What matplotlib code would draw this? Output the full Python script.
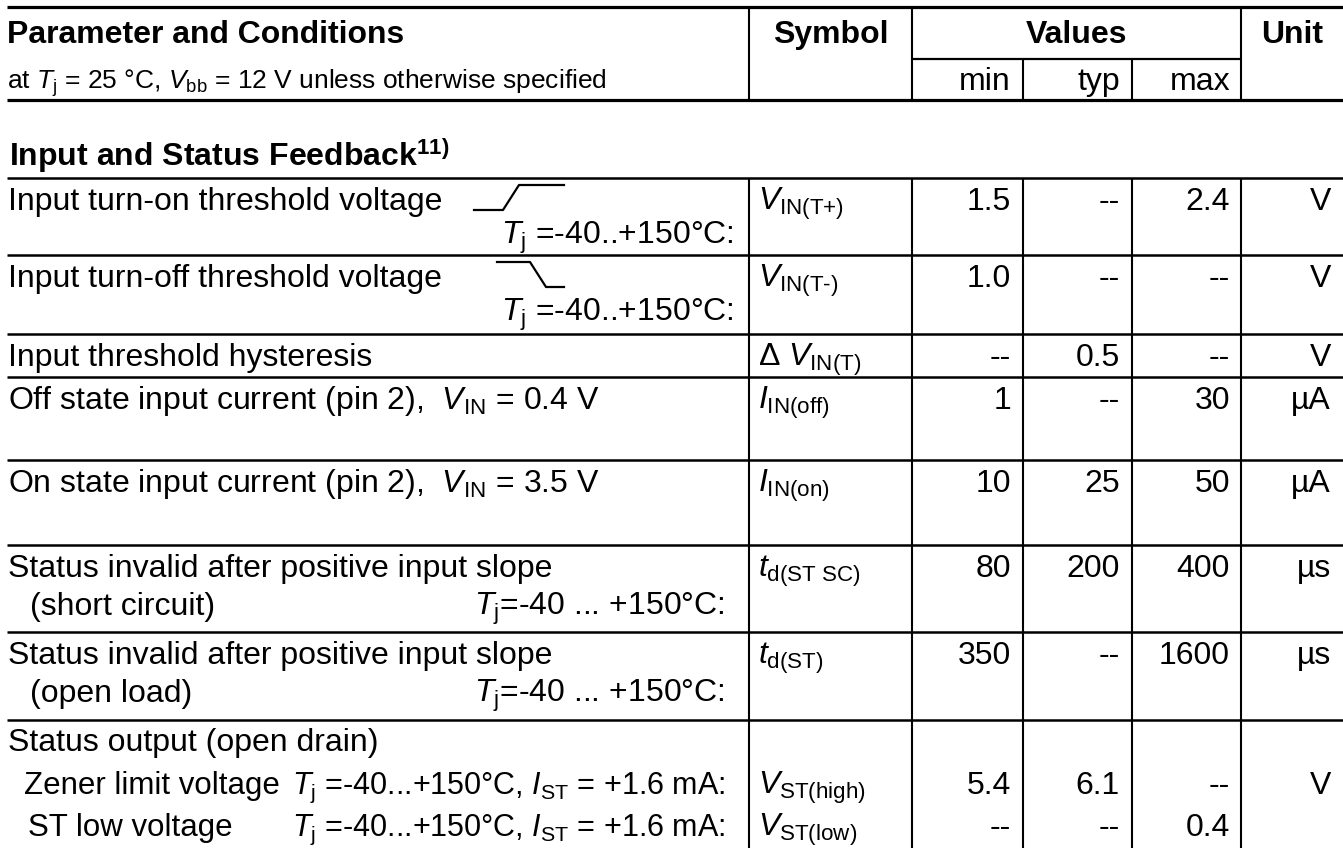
import matplotlib.pyplot as plt

plt.rcParams['font.family'] = ['Liberation Sans', 'DejaVu Sans']
plt.rcParams['mathtext.fontset'] = 'custom'
plt.rcParams['mathtext.rm'] = 'Liberation Sans'
plt.rcParams['mathtext.it'] = 'Liberation Sans:italic'
plt.rcParams['mathtext.bf'] = 'Liberation Sans:bold'

# table content
params = [
    'Input turn-on threshold voltage',
    'Input turn-off threshold voltage',
    'Input threshold hysteresis',
    r'Off state input current (pin 2),  $V_{\text{IN}}$ = 0.4 V',
    r'On state input current (pin 2),  $V_{\text{IN}}$ = 3.5 V',
    'Status invalid after positive input slope',
    'Status invalid after positive input slope',
]
sub_left = ['', '', '', '', '', '(short circuit)', '(open load)']
sub_right = [
    r'$T_{\text{j}}$ =-40..+150°C:',
    r'$T_{\text{j}}$ =-40..+150°C:',
    '', '', '',
    r'$T_{\text{j}}$=-40 ... +150°C:',
    r'$T_{\text{j}}$=-40 ... +150°C:',
]
symbols = [r'$V_{\text{IN(T+)}}$', r'$V_{\text{IN(T-)}}$', r'Δ $V_{\text{IN(T)}}$',
           r'$I_{\text{IN(off)}}$', r'$I_{\text{IN(on)}}$',
           r'$t_{\text{d(ST SC)}}$', r'$t_{\text{d(ST)}}$']
mins = ['1.5', '1.0', '--', '1', '10', '80', '350']
typs = ['--', '--', '0.5', '--', '25', '200', '--']
maxs = ['2.4', '--', '--', '30', '50', '400', '1600']
units = ['V', 'V', 'V', 'µA', 'µA', 'µs', 'µs']

st_title = 'Status output (open drain)'
st_labels = ['Zener limit voltage', 'ST low voltage']
st_cond = r'$T_{\text{j}}$ =-40...+150°C, $I_{\text{ST}}$ = +1.6 mA:'
st_symbols = [r'$V_{\text{ST(high)}}$', r'$V_{\text{ST(low)}}$']
st_mins = ['5.4', '--']
st_typs = ['6.1', '--']
st_maxs = ['--', '0.4']
st_units = ['V', '']

# layout (pixels)
W, H = 1343, 848
col_x = [749, 912, 1023, 1132, 1241]
row_y = [178, 255, 334, 377, 460, 545, 632, 720, H]
fs = 23
fsb = 23

fig = plt.figure(figsize=(W / 100, H / 100), dpi=100)
ax = fig.add_axes([0, 0, 1, 1])
ax.set_xlim(0, W)
ax.set_ylim(H, 0)
ax.axis('off')

def txt(x, y, s, ha='left', size=fs, **kw):
    ax.text(x, y, s, ha=ha, va='baseline', fontsize=size, color='black', **kw)

def values(y, vmin, vtyp, vmax, unit):
    txt(col_x[2] - 12, y, vmin, ha='right')
    txt(col_x[3] - 12, y, vtyp, ha='right')
    txt(col_x[4] - 11, y, vmax, ha='right')
    txt(W - 12, y, unit, ha='right')

# header
ax.hlines(7, 7, W, color='black', lw=2.3)
ax.hlines(100, 7, W, color='black', lw=2.3)
ax.hlines(59, col_x[1], col_x[4], color='black', lw=1.6)
for x in [col_x[0], col_x[1], col_x[4]]:
    ax.vlines(x, 7, 100, color='black', lw=1.5)
for x in [col_x[2], col_x[3]]:
    ax.vlines(x, 59, 100, color='black', lw=1.5)
txt(7, 43, 'Parameter and Conditions', size=fsb, fontweight='bold')
txt(7, 89, r'at $T_{\text{j}}$ = 25 °C, $V_{\text{bb}}$ = 12 V unless otherwise specified', size=19)
txt((col_x[0] + col_x[1]) / 2, 43, 'Symbol', ha='center', size=fsb, fontweight='bold')
txt((col_x[1] + col_x[4]) / 2, 43, 'Values', ha='center', size=fsb, fontweight='bold')
txt((col_x[4] + W) / 2, 43, 'Unit', ha='center', size=fsb, fontweight='bold')
values(90, 'min', 'typ', 'max', '')

# section title
txt(9, 166, r'Input and Status Feedback$^{\mathbf{11)}}$', size=fsb, fontweight='bold')

# grid
ax.hlines(row_y[:-1], 7, W, color='black', lw=1.8)
ax.vlines(col_x, row_y[0], H, color='black', lw=1.5)

# rows
for i in range(len(params)):
    top = row_y[i]
    b1 = top + 32
    b2 = top + (66 if i < 2 else 70)
    txt(8, b1, params[i])
    if sub_left[i]:
        txt(30, b2, sub_left[i])
    if sub_right[i]:
        txt(734 if i < 2 else 725, b2, sub_right[i], ha='right')
    txt(758, b1, symbols[i])
    values(b1, mins[i], typs[i], maxs[i], units[i])

# threshold edge icons
ax.plot([474, 503, 519, 564], [row_y[0] + 32, row_y[0] + 32, row_y[0] + 7, row_y[0] + 7],
        color='black', lw=1.6, solid_joinstyle='round')
ax.plot([497, 530, 546, 564], [row_y[1] + 7, row_y[1] + 7, row_y[1] + 32, row_y[1] + 32],
        color='black', lw=1.6, solid_joinstyle='round')

# status output row
top = row_y[7]
txt(8, top + 31, st_title)
for k in range(2):
    b = top + 74 + k * 42
    txt(24 + 4 * k, b, st_labels[k], size=22.5)
    txt(725, b, st_cond, ha='right', size=22)
    txt(758, b, st_symbols[k])
    values(b, st_mins[k], st_typs[k], st_maxs[k], st_units[k])

fig.savefig('out.png', dpi=100)
